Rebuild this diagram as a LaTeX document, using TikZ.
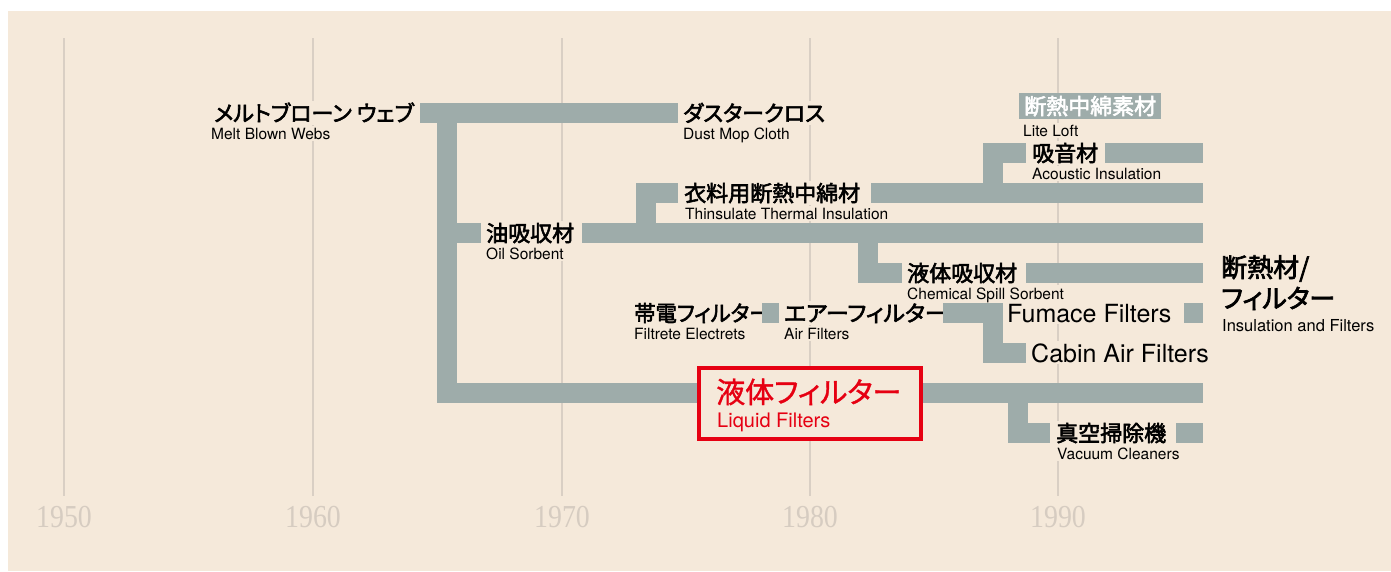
\documentclass[tikz,border=0pt]{standalone}
\usepackage{fontspec}
\setmainfont{TeX Gyre Heros}
\newfontfamily\jp[RawFeature=+palt,FakeBold=2.6]{Noto Sans CJK JP}
\newfontfamily\jpr[RawFeature=+palt,FakeBold=1.2]{Noto Sans CJK JP}
\newfontfamily\yr{Liberation Serif}
\definecolor{bg}{RGB}{245,233,218}
\definecolor{bargray}{RGB}{158,172,170}
\definecolor{gridc}{RGB}{217,207,196}
\definecolor{yearc}{RGB}{214,204,193}
\definecolor{redc}{RGB}{230,0,18}
\begin{document}
\begin{tikzpicture}[x=1pt,y=-1pt,
  bar/.style={draw=bargray,line width=20pt,line cap=butt,line join=miter},
  sq/.style={fill=bargray},
  jlab/.style={font=\jp\fontsize{22pt}{22pt}\selectfont,inner xsep=0pt,inner ysep=1pt,fill=bg,text height=19.4pt,text depth=2.6pt,anchor=west},
  elab/.style={font=\fontsize{15.5pt}{16pt}\selectfont,inner xsep=0pt,inner ysep=2pt,fill=bg,anchor=base west},
  biglab/.style={font=\fontsize{25pt}{25pt}\selectfont,inner xsep=0pt,inner ysep=2pt,fill=bg,anchor=base west},
  gridline/.style={draw=gridc,line width=2pt},
  year/.style={font=\yr\fontsize{32pt}{32pt}\selectfont,text=yearc,anchor=base,inner sep=0pt}]
\useasboundingbox (0,0) rectangle (1391,571);
\fill[white] (0,0) rectangle (1391,571);
\fill[bg] (8,11) rectangle (1391,571);
% grid
\foreach \x/\y in {64/1950,313/1960,562/1970,810/1980,1058/1990}{
  \draw[gridline] (\x,38) -- (\x,496);
  \node[year] (y\y) at (\x,527) {\scalebox{0.87}[1]{\y}};
}
% labels
\node[jlab,anchor=east] (melt) at (414,113) {メルトブローン ウェブ};
\node[elab] (melten) at (211,139) {Melt Blown Webs};
\node[jlab] (dust) at (683,113) {ダスタークロス};
\node[elab] (dusten) at (683,139) {Dust Mop Cloth};
\node[jlab,fill=bargray,text=white,inner xsep=5pt,minimum height=26pt] (lite) at (1019,106) {断熱中綿素材};
\node[elab] (liteen) at (1023,136) {Lite Loft};
\node[jlab] (acou) at (1032,153) {吸音材};
\node[elab] (acouen) at (1032,179) {Acoustic Insulation};
\node[jlab] (thin) at (684,193) {衣料用断熱中綿材};
\node[elab] (thinen) at (685,219) {Thinsulate Thermal Insulation};
\node[jlab] (oil) at (486,233) {油吸収材};
\node[elab] (oilen) at (486,259) {Oil Sorbent};
\node[jlab] (chem) at (907,273) {液体吸収材};
\node[elab] (chemen) at (907,299) {Chemical Spill Sorbent};
\node[jlab] (elec) at (634,313) {\scalebox{0.97}[1]{帯電フィルター}};
\node[elab] (elecen) at (634,339) {Filtrete Electrets};
\node[jlab] (air) at (784,313) {\scalebox{1.04}[1]{エアーフィルター}};
\node[elab] (airen) at (784,339) {Air Filters};
\node[biglab] (fum) at (1007,322) {Fumace Filters};
\node[biglab] (cab) at (1031,362) {Cabin Air Filters};
\node[jlab] (vac) at (1056,433) {真空掃除機};
\node[elab] (vacen) at (1057,459) {Vacuum Cleaners};
\node[jlab,font=\jp\fontsize{26pt}{26pt}\selectfont,text height=23pt,text depth=3pt] (ins) at (1221,267) {断熱材/};
\node[jlab,font=\jp\fontsize{26pt}{26pt}\selectfont,text height=23pt,text depth=3pt] (fil) at (1221,298) {フィルター};
\node[elab,font=\fontsize{16.5pt}{17pt}\selectfont] (insen) at (1222,331) {Insulation and Filters};
% bars
\draw[bar] (420,113) -- (678,113);
\draw[bar] (447,113) -- (447,393) -- (1203,393);
\draw[bar] (447,233) -- (481,233);
\draw[bar] (582,233) -- (1203,233);
\draw[bar] (645.5,233) -- (645.5,193) -- (678,193);
\draw[bar] (871,193) -- (1203,193);
\draw[bar] (993,193) -- (993,153) -- (1026,153);
\draw[bar] (1105,153) -- (1203,153);
\draw[bar] (868,233) -- (868,273) -- (902,273);
\draw[bar] (1026,273) -- (1203,273);
\fill[sq] (762,303) rectangle (779,323);
\draw[bar] (943,313) -- (993,313) -- (993,353) -- (1026,353);
\fill[sq] (1184,303) rectangle (1203,323);
\draw[bar] (1018,393) -- (1018,433) -- (1050,433);
\fill[sq] (1176,423) rectangle (1203,443);
% liquid filters
\node[draw=redc,line width=4pt,fill=bg,minimum width=222pt,minimum height=71pt,inner sep=0pt] (liqbox) at (810,403.5) {};
\node[jlab,fill=none,text=redc,font=\jpr\fontsize{29pt}{29pt}\selectfont,text height=25.4pt,text depth=3.6pt] (liq) at (716,392) {液体フィルター};
\node[elab,fill=none,text=redc,font=\fontsize{20pt}{20pt}\selectfont] (liqen) at (717,427) {Liquid Filters};
\end{tikzpicture}
\end{document}
